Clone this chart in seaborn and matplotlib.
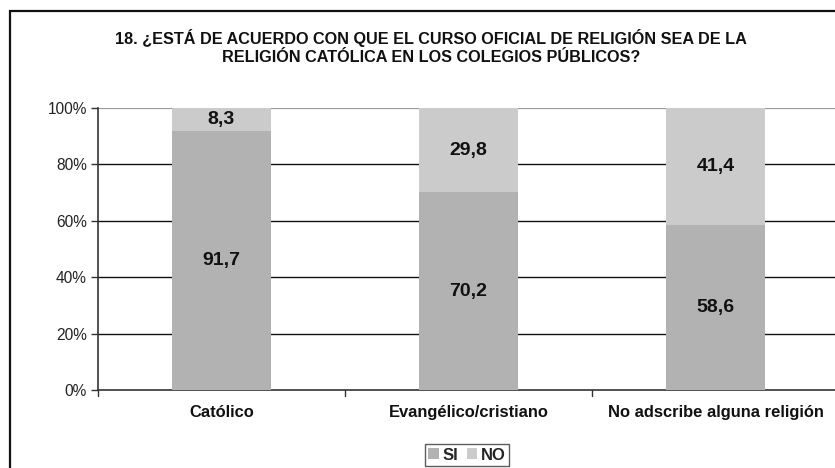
import matplotlib
matplotlib.use("Agg")
import matplotlib.pyplot as plt
import seaborn as sns
import pandas as pd
from matplotlib.patches import Patch, Rectangle

categories = ["Católico", "Evangélico/cristiano", "No adscribe alguna religión"]
si_values = [91.7, 70.2, 58.6]
no_values = [8.3, 29.8, 41.4]
series_names = ["SI", "NO"]
y_tick_labels = ["0%", "20%", "40%", "60%", "80%", "100%"]
title_text = ("18. ¿ESTÁ DE ACUERDO CON QUE EL CURSO OFICIAL DE RELIGIÓN SEA DE LA\n"
              "RELIGIÓN CATÓLICA EN LOS COLEGIOS PÚBLICOS?")

sns.set_theme(style="white")
plt.rcParams["font.family"] = ["Liberation Sans", "DejaVu Sans"]

SI_COLOR = "#b2b2b2"
NO_COLOR = "#cbcbcb"

df = pd.DataFrame({"categoria": categories, "SI": si_values, "NO": no_values})
df["total"] = df["SI"] + df["NO"]

fig = plt.figure(figsize=(8.35, 4.68), dpi=100)
ax = fig.add_axes([98 / 835, 1 - 390 / 468, 741 / 835, 282 / 468])

# stacked bars: full height in light gray, SI part drawn over it
sns.barplot(data=df, x="categoria", y="total", color=NO_COLOR, width=0.4,
            saturation=1, ax=ax, zorder=3)
sns.barplot(data=df, x="categoria", y="SI", color=SI_COLOR, width=0.4,
            saturation=1, ax=ax, zorder=3)
for p in ax.patches:
    p.set_edgecolor("none")
    p.set_linewidth(0)

ax.set_xlim(-0.5, len(categories) - 0.5)
ax.set_ylim(0, 100)
ax.set_yticks([0, 20, 40, 60, 80, 100])
ax.set_yticklabels(y_tick_labels, fontsize=11.2, color="#222222")
for y in [20, 40, 60, 80]:
    ax.axhline(y, color="#111111", lw=1.0, zorder=1)
ax.axhline(100, color="#9a9a9a", lw=1.6, zorder=1)

ax.set_xticks(range(len(categories)))
ax.set_xticklabels(categories, fontsize=11.9, fontweight="bold", color="#111111")
ax.tick_params(axis="x", length=0, pad=11)
ax.tick_params(axis="y", length=5, width=1, color="#333333", left=True, pad=3)
for xb in [-0.5, 0.5, 1.5]:
    ax.plot([xb, xb], [0, -2.2], color="#333333", lw=1, clip_on=False)

ax.set_xlabel("")
ax.set_ylabel("")
for side in ["top", "right"]:
    ax.spines[side].set_visible(False)
for side in ["left", "bottom"]:
    ax.spines[side].set_color("#333333")
    ax.spines[side].set_linewidth(1.2)

# value labels in the middle of each segment
for i, (s, n) in enumerate(zip(si_values, no_values)):
    ax.text(i, s / 2, f"{s:.1f}".replace(".", ","), ha="center", va="center",
            fontsize=14, fontweight="bold", color="#111111", zorder=5)
    ax.text(i, s + n / 2, f"{n:.1f}".replace(".", ","), ha="center", va="center",
            fontsize=14, fontweight="bold", color="#111111", zorder=5)

for line, ypix in zip(title_text.split("\n"), [38, 58]):
    fig.text(431 / 835, 1 - ypix / 468, line, ha="center", va="center",
             fontsize=11.7, fontweight="bold", color="#111111")

# outer chart frame
fig.patches.append(Rectangle((10 / 835, -0.1), 1.1, 1 - 11 / 468 + 0.1,
                             transform=fig.transFigure, fill=False,
                             edgecolor="#111111", lw=1.6))

handles = [Patch(facecolor=SI_COLOR, edgecolor="none"),
           Patch(facecolor=NO_COLOR, edgecolor="none")]
leg = fig.legend(handles, series_names, loc="center", bbox_to_anchor=(467 / 835, 1 - 455 / 468),
                 ncol=2, frameon=True, prop={"weight": "bold", "size": 12},
                 handlelength=0.65, handleheight=0.65, handletextpad=0.2, columnspacing=0.5,
                 borderpad=0.2, fancybox=False, borderaxespad=0)
leg.get_frame().set_edgecolor("#333333")
leg.get_frame().set_linewidth(1.0)

fig.savefig("out.png", dpi=100)
